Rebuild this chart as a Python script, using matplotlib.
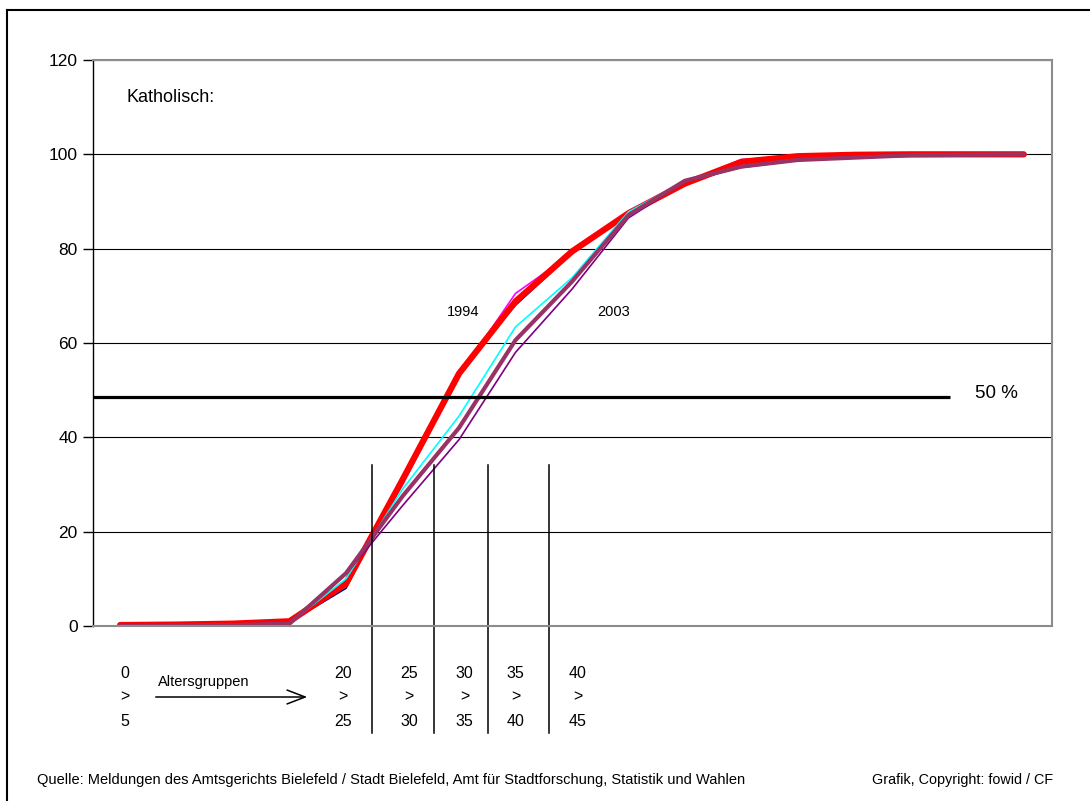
import matplotlib
matplotlib.use('Agg')
import matplotlib.pyplot as plt
from matplotlib.lines import Line2D

plt.rcParams['font.family'] = ['Liberation Sans', 'DejaVu Sans']

# age groups (5-year steps), cumulative share in %
age_groups = ['0-5', '5-10', '10-15', '15-20', '20-25', '25-30', '30-35', '35-40', '40-45',
              '45-50', '50-55', '55-60', '60-65', '65-70', '70-75', '75-80', '80-85']
s_navy = [0.1, 0.2, 0.4, 0.8, 8.0, 31.0, 53.8, 68.0, 79.0, 87.3, 94.0, 98.3, 99.5, 99.8, 100, 100, 100]
s_magenta = [0.1, 0.2, 0.4, 0.8, 9.0, 30.0, 53.0, 70.5, 79.0, 87.3, 94.0, 98.9, 99.6, 99.9, 100, 100, 100]
s_red = [0.2, 0.3, 0.5, 1.0, 9.0, 31.0, 53.5, 68.8, 79.4, 87.5, 93.8, 98.4, 99.6, 99.9, 100, 100, 100]
s_cyan = [0.1, 0.2, 0.3, 0.6, 10.0, 29.0, 44.5, 63.4, 73.8, 87.8, 94.3, 97.5, 98.9, 99.4, 99.8, 100, 100]
s_mauve = [0.0, 0.1, 0.2, 0.5, 11.2, 27.5, 42.0, 60.6, 73.0, 87.1, 94.4, 97.4, 98.8, 99.3, 99.8, 99.9, 100]
s_purple = [0.0, 0.1, 0.2, 0.4, 11.0, 25.5, 39.5, 58.0, 71.4, 86.5, 94.2, 97.2, 98.7, 99.2, 99.7, 99.9, 100]

half_line = 48.5
group_lines = [4.46, 5.56, 6.51, 7.59]
group_labels = [('0', '5', 0.09), ('20', '25', 3.95), ('25', '30', 5.12),
                ('30', '35', 6.1), ('35', '40', 7.0), ('40', '45', 8.1)]

W, H = 1090, 801
fig = plt.figure(figsize=(W / 100, H / 100), dpi=100)
ax = fig.add_axes([93 / W, 1 - 626 / H, (1052 - 93) / W, (626 - 60) / H])

x = range(len(age_groups))
ax.plot(x, s_navy, color='#000080', lw=1.2)
ax.plot(x, s_magenta, color='#ff00ff', lw=1.2)
ax.plot(x, s_red, color='#ff0000', lw=4.5, solid_capstyle='round')
ax.plot(x, s_cyan, color='#00ffff', lw=1.2)
ax.plot(x, s_purple, color='#800080', lw=1.2)
ax.plot(x, s_mauve, color='#993366', lw=3.0, solid_capstyle='round')

ax.set_xlim(-0.48, 16.5)
ax.set_ylim(0, 120)
ax.set_yticks(range(0, 121, 20))
ax.set_xticks([])
ax.yaxis.grid(True, color='black', lw=0.8)
ax.set_axisbelow(True)
for s in ['top', 'right', 'bottom']:
    ax.spines[s].set_color('#8c8c8c')
    ax.spines[s].set_linewidth(1.5)
ax.spines['left'].set_linewidth(1.0)
ax.tick_params(axis='y', length=7, width=1, labelsize=12.5, pad=4)

# 50 % line
ax.hlines(half_line, -0.48, 14.69, color='black', lw=2.3)
ax.text(15.52, half_line + 0.8, '50 %', fontsize=13.5, ha='center', va='center')

ax.text(0.12, 112, 'Katholisch:', fontsize=13, ha='left', va='center')
ax.text(6.08, 66.5, '1994', fontsize=10.5, ha='center', va='center')
ax.text(8.74, 66.5, '2003', fontsize=10.5, ha='center', va='center')

# age group separators reaching below the axis
for gx in group_lines:
    ax.plot([gx, gx], [34.1, -22.7], color='black', lw=1.1, clip_on=False)

for top, bottom, gx in group_labels:
    ax.text(gx, -10.0, top, fontsize=11.5, ha='center', va='center')
    ax.text(gx, -15.0, '>', fontsize=11.5, ha='center', va='center')
    ax.text(gx, -20.2, bottom, fontsize=11.5, ha='center', va='center')

fig.text(158 / W, 1 - 682 / H, 'Altersgruppen', fontsize=10.5, ha='left', va='center')
fig.add_artist(plt.Annotation('', xy=(310 / W, 1 - 697 / H), xytext=(153 / W, 1 - 697 / H),
                              xycoords='figure fraction',
                              arrowprops=dict(arrowstyle='->,head_length=1.3,head_width=0.5', lw=1.1)))

fig.text(37 / W, 1 - 780 / H,
         'Quelle: Meldungen des Amtsgerichts Bielefeld / Stadt Bielefeld, Amt für Stadtforschung, Statistik und Wahlen',
         fontsize=10.5, ha='left', va='center')
fig.text(1053 / W, 1 - 780 / H, 'Grafik, Copyright: fowid / CF', fontsize=10.4, ha='right', va='center')

# outer frame (only top and left edges are inside the picture)
fig.add_artist(Line2D([7 / W, 1], [1 - 10 / H, 1 - 10 / H], color='black', lw=1.5))
fig.add_artist(Line2D([7 / W, 7 / W], [0, 1 - 10 / H], color='black', lw=1.5))

fig.savefig('out.png', dpi=100, facecolor='white')
